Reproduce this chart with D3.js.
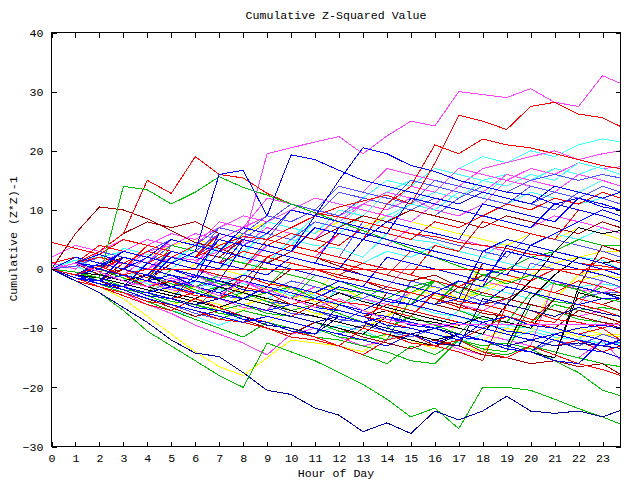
<!DOCTYPE html>
<html><head><meta charset="utf-8">
<script src="https://cdn.jsdelivr.net/npm/d3@7"></script>
<style>
body{margin:0;background:#fff}
text{font-family:"Liberation Mono","DejaVu Sans Mono",monospace;font-size:11.6px;fill:#000}
</style></head>
<body><svg id="chart" width="640" height="480"></svg>
<script>
// hour of day for each sample
const hours = [0,1,2,3,4, 5,6,7,8,9, 10,11,12,13,14, 15,16,17,18,19, 20,21,22,23,23.75];
const xTicks = [0,1,2,3,4,5,6,7,8,9,10,11,12,13,14,15,16,17,18,19,20,21,22,23];
const yTicks = [-30,-20,-10,0,10,20,30,40];

// cumulative (Z*Z)-1 series, one value per hour
const magenta1 = [0,-1,0.5,1,0, 2,1.5,3,4.5,19.5, 20.5,21.5,22.4,19.5,22.5, 25,24.2,30,29.5,29, 30.5,28.2,27.5,32.7,31.4];
const red1     = [0,1,-0.5,2,1, 3,2,4,5.5,5, 7,9,10.5,11.5,12.5, 11,17.9,26,25,23.6, 27.5,28.2,26.2,25.6,24.1];
const red2     = [0,1,0,2,1, 3,2,1,3,2, 4,3,6,5,11, 14,21,19.5,22,21, 20.5,19.5,18.5,17.5,17];
const red3     = [0,1,3,6,15, 12.8,19,16,15.4,12.8, 11,9.5,8.8,8,7, 6,5.5,4.5,4,3.5, 2.5,2,1,0.5,0];
const green1   = [0,-0.5,-1.5,14,13.4, 11,13,15.6,13.8,12.5, 11,9.5,8,6.5,5, 3.5,2,0.5,-1,-2.5, -1,-2.5,-3.5,-5,-5.5];
const darkred1 = [0,6,10.5,10,8.5, 6.5,4.5,3.5,2,1, 3,2,0.5,-1,-2, -3,-4,-5,-6,-5, -6,-7,-8,-9,-9.5];
const navy1    = [0,-2,-4,-6.5,-9, -12,-14.2,-14.8,-17.5,-20.5, -21.2,-23.5,-24.7,-27.5,-26, -27.8,-24,-25.5,-24,-21.5, -24,-24.4,-24,-25,-23.9];
const green2   = [0,-2,-4,-7,-10.5, -13,-15.5,-18,-20,-12.5, -14,-15.5,-17.5,-19.5,-22, -25,-23.5,-27,-20,-20, -20.5,-22,-23.6,-25,-26.2];
const green3   = [0,-1,-2.5,-4,-5.5, -7,-8.5,-10,-11.5,-9, -10.5,-11.5,-13,-14.5,-16, -13,-14.5,-12,-13,-12.5, -13.5,-15.5,-17.5,-20.5,-21.4];
const magenta2 = [0,1,-0.5,-2,-3, -1.5,-3,-4.5,-2,-3.5, -5,-6.5,-5,-7,-8.5, -9.3,-9.3,-9.3,-9.3,-9.3, -9.3,-9.3,-9.3,-9.3,-9.3];
const red4     = [0,-1,0.5,-1,0, 0,0,0,0,0, 0,0,0,0,0, 0,0,0,0,0, 0,0,0,0,0];
const yellow1  = [0,-1.5,-3,-5,-8, -11,-14,-16.5,-18,-15, -12,-12.5,-13,-14,-11, -12,-13.5,-9,-10,-11, -9,-10,-11.5,-11,-11.5];
const magenta3 = [0,-1,-2.5,-4,-6, -7.5,-9.5,-11,-12.5,-14.5, -11,-10,-11.5,-13,-12, -11,-12,-13.5,-14.5,-15, -13,-14,-15,-12,-15.4];
const darkred2 = [0,-1,-2,-3.5,-5, -6.5,-8,-7,-8.5,-10, -11,-9,-10,-11.5,-12.5, -13.5,-12,-13,-14.5,-15, -16,-15.5,-16.5,-16,-17.8];
const red5     = [0,-1.5,-3,-4.5,-6, -7,-5,-6.5,-8,-9, -10.5,-11.5,-13,-14.5,-12, -11,-13,-12,-14,-15, -13,-14.5,-16,-17,-18];
const black1   = [0,1,0.5,2,1, 0,-1,-2,-3,-4, -5,-6,-7,-8,-7, -8.5,-9,-10,-11,-6, -2,3,7,6,6.5];
const black2   = [0,-0.5,-1,-2,-1, -3,-4,-5,-3,-4, -5,-6,-4,-5.5,-6.5, -7.5,-8.5,-9.5,-8,-9, -10,-5,-6,-7,-8];
const cyan1    = [0,2,1,3,2, 5,4,3,6,5, 4,8,7,11,10, 14,13,17,19,18, 20,19,21,22,21.5];
const cyan2    = [0,1,0,2,1, 0,3,2,1,4, 3,2,6,9,8, 11,13,12,15,16, 15,17,16,17.5,17];
const cyan3    = [0,-1,1,0,-1, 2,1,0,3,6, 5,8,7,6,9, 11,10,13,12,11, 13,12,11,12,11];
const cyan4    = [0,-1,-2,-1,-2.5, -3.5,-2,-3,-4,-5, -3,-4.5,-6,-5,-6.5, -4,-5,-6,-3,-4, -5,-2,-3,-2.5,-3];
const cyan5    = [0,-1.5,-3,-4,-5.5, -7,-8,-9.5,-8,-9, -10,-11,-9.5,-10.5,-12, -10,-11,-12.5,-11,-12, -10.5,-11.5,-12,-12.5,-12.5];
const cyan6    = [0,0.5,-1,-2,1, 0,-1,-2.5,-1,2, 1,0,-1,1,3, 2,4,3,2,5, 4,6,5,7,6];
const cyan7    = [0,1.5,0,3.5,2.5, 1,4.5,3,2,8, 7,6,10,9,13, 15,14,13,12,16, 15,14,13,15,14];
const cyan8    = [0,-1,-2.5,-3,-4.5, -5,-2,-3.5,-4,-5.5, -6,-7.5,-3,-4,-5.5, -6,-7.5,-8,-9.5,-10, -6,-7,-8.5,-9,-10];
const cyan9    = [0.5,1.5,2,3,2, 1,4,3.5,2,1, 5,4,3.5,2,6, 5,4.5,3,2,1, 0,3,2,1.5,0];
const cyan10   = [0,-1,0.5,-1,-2, -3,-4,-1,-2.5,-3, -4.5,-5,-6,-7,-8, -9.5,-10,-7,-8,-9.5, -10,-11,-12,-8,-9];
const cyan11   = [0,1,0,-1,2, 1,0,4,3,6, 5,9,8,12,15, 14,17,16,15,14, 16,15,18,17,16];
const blue1    = [0,-1,1,0,2, 1,3,16,16.7,9, 19.3,18.5,16.7,15,14, 13,12,11,13,12, 11,14,13,12,13];
const blue2    = [0,1,0.5,3,2, 5,4,3,7,6, 10,9,15,20.5,19.5, 17.5,16.5,15,14,13, 12.5,11,12,10.5,10];
const blue3    = [0,-1,-2,-1,-2, 2,1,0,5,4, 3,7,6,5,8, 7,6,5,11,10, 9,8,12,11,10];
const blue4    = [0,1,0,-1,-2, -1,-3,-4,-2,-3, -4,-5,-3,-4,-5.5, -6,-4,-5,-6,-3, -4,-5,-6,-5,-5];
const blue5    = [0,-1,-2,-3,-1, -2,-3,-4,-5,-3, -4,-5,-6,-7,-5, -6,-7,-8,-9,-8, -9.5,-10,-11,-12,-13];
const blue6    = [0,-1,-2,-3,-4, -3,-4,-5,-6,-7, -6,-7,-8,-9,-8, -9,-10,-9,-10,-11, -12,-11,-10,-9.5,-10];
const blue7    = [0,-1.5,-2.5,-3.5,-5, -6,-7,-8,-9,-8, -9,-10,-11,-12,-13, -11,-12.5,-11,-12,-13, -14,-11,-12,-13,-12];
const blue8    = [0,2,1,0,-1, 3,2,1,0,-1, 2,1,0,-1,-2, -3,-4,-2,-3,4, 3,2,1,0,-1];
const blue9    = [0,-1,0,-1,-2, -3,-2,-3,-1,-2, -3,-4,-2,-3,-4, -5,-6,-5,3,5, 4,6,8,10,9];
const blue10   = [0,-1,-2,2,1, 0,-1.5,6,5,4, 3,9,8,7,6, 12,11,10,9,8, 7,11,10,9,8];
const blue11   = [0,-1,-2.5,-3,1, 0,-1,-2,4,3, 2,1,0,5,4, 3,2,1,0,-1, 4,3,2,1,0];
const blue12   = [0,1,2.5,1,0, -1,-2,3,2,1, 0,-1,-2,-3,2, 1,0,-1,-2,3, 2,1,0,-1,-2];
const blue13   = [0,-1.5,-2,-3,-4.5, -5,-6.5,-7,-8.5,-9, -10.5,-11,-6,-7.5,-8, -9.5,-10,-11.5,-12,-13.5, -14,-15.5,-16,-12,-13];
const blue14   = [0,-1,-2,-3,-4, -5,-1,-2,-3.5,-4, -5,-6.5,-7,-8,-9.5, -10,-11,-12,-9,-10.5, -11,-12,-13.5,-14,-15];
const blue15   = [0,1,0,3,2, 1,0,5,4,3, 2,1,7,6,5, 4,3,2,1,0, -1,-2,-3,-4,-5];
const lblue1   = [0,1,0,2,1, 3,2,5,4,6, 5,8,7,9,8, 10,9,12,14,13, 15,16,15,16,15.4];
const lblue2   = [0,-1,-2,0,-1, -2,-3,-2,-3,-4, -2,-3,-4,-5,-3, -4,-5,-6,-4,-5, -3,-4,-5,-4,-4];
const lblue3   = [0,-1,-2.5,-4,-5, -6,-7.5,-8.5,-7,-8, -9,-10,-11,-9.5,-10.5, -11.5,-10,-11,-12,-13, -12,-11,-12,-13,-12.3];
const lblue4   = [0,0.5,2,1,3, 5,4,7,6,9, 8,10,9,12,11, 10,12,11,13,12, 11,13,12,14,13];
const lblue5   = [0,-1,1,0,4, 3,2,7,6,5, 10,9,13,12,11, 15,14,13,12,11, 14,13,12,11,10];
const lblue6   = [0,-1.5,-2,-3.5,-4, -2,-3,-4.5,-5,-6, -7.5,-8,-9,-7,-8.5, -9,-10,-11.5,-12,-13, -14,-12,-13,-11,-12];
const lblue7   = [0,2,1,0,4, 3,2,1,6,5, 4,3,2,8,7, 6,5,4,3,2, 6,5,4,3,2];
const lblue8   = [0,-1,-2,-3.5,-4, -5,-6.5,-3,-4,-5.5, -6,-7,-8.5,-9,-10, -2,-3,-4,-5.5,-6, 1,0,-1,-2,-3];
const lblue9   = [0,1,3,2,1, 4,3,6,5,8, 11,10,14,13,12, 11,15,14,13,12, 11,10,13,12,11];
const navy2    = [0,-1,-2,-3,-4, -5,-6,-5,-6,-7, -8,-9,-8,-9,-10, -11,-10,-11,-12,-13, -12,-13,-12.5,-13,-13.4];
const navy3    = [0,-1,-2.5,-3,-4.5, -5,-6.5,-7,-8,-9.5, -10,-11,-8,-9,-10.5, -11,-12.5,-13,-5,-6, -7,-8,-6.5,-7.5,-8];
const red6     = [0,-1,-2,-1,-3, -2,-4,-5,-3,-4, -6,-5,-7,-8,-6, -7,-8,-9,-10,-8, -9,-10,-11,-10,-12];
const red7     = [0,1,2,1,3, 2,4,3,5,4, 6,5,4,7,6, 5,8,7,9,11, 10,12,11,13,12];
const red8     = [4.5,3.5,2.5,5,4, 3,2,1,3,2, 1,0,-1,1,0, -1,-2,-3,-1,-2, -3,-4,-2,-3,-4];
const red9     = [0,-1,-2,-3,-4, -5,-4,-5,-6,-7, -8,-6,-7,-8,-9, -10,-11,-12,-10,-11, -12,-13,-12,-14,-13];
const red10    = [1,2,1,0,4, 3,2,6,5,4, 3,2,1,0,-1, 3,2,1,0,-1, -2,0,-1,2,1];
const red11    = [0,2,1,0,-1.5, 3,2,1,0,5, 4,3,2,1,0, -1,4,3,8,7, 6,5,10,9,8];
const red12    = [0,-2,-3,-4,-5.5, -6,-7,-8.5,-9,-10, -11.5,-12,-13,-10,-11, -12.5,-13,-14,-15.5,-6, -7,-8.5,-9,-10,-9];
const red13    = [0,-1,-2,-3,-4, -3,-4.5,-5,-1,-2.5, -3,-4,-5.5,-6,-7, -8,-4,-5.5,-6,-7, -8.5,-9,-5,-6,-7];
const red14    = [0,1,4,3,2, 1,0,-1,-2,2, 1,0,-1.5,-2,-3, -4,-5,-6.5,-7,-8, -9,-5,-6,-7,-8];
const green4   = [0,-1,-2,-1,-2, -3,-4,-3,-5,-4, -3,-5,-6,-4,-5, -3,-2,-4,-1,0, 2,3,5,4,4];
const green5   = [0,-1,0,-1.5,-3, -2,-3.5,-5,-4,-5.5, -7,-6,-7.5,-9,-10, -8,-9.5,-11,-7,-8, -9,-6,-7,-6.5,-7];
const green6   = [0,-0.5,-2,-3,-4.5, -6,-7,-8.5,-7,-8, -9,-10,-11.5,-12,-11, -12,-13,-12,-14,-14.5, -13,-14,-15,-16,-16.5];
const green7   = [0,1,-1,-2,-1, -2.5,-3,-1,-2,-3, 1,0,-1,-2,-3, -4,-2,-3,-4,-5, -3,-4,-5,-3,-4];
const green8   = [0,-1,-2,-3.5,-4, 0,-1,-2.5,-3,-4, -5,-1,-2,-3.5,-4, -5,-6,-2,-3,0, -1,-2.5,-3,-4,-5];
const green9   = [0,-1,-1.5,-3,-4, -5.5,-6,-7,-6,-7.5, -8,-9,-10.5,-11,-12, -5,-6,-7,-8.5,-9, -4,-5.5,-6,-7,-8];
const green10  = [0,-1,-2,-3,-4.5, -5,-6,-7.5,-8,-9, -10,-11.5,-12,-13,-14, -15.5,-16,-12,-13.5,-14, -6,-7,-8.5,-9,-10];
const green11  = [0,1,0,-1,-2, 4,3,2,1,0, -1,-2,-3.5,-4,-5, -6,-2,-3,-4.5,-5, -6,-7,-8,-9,-10];
const yellow2  = [0,-1,-2,-1,-3, -4,-3,-5,-6,-5, -7,-8,-6,-7,-8, -6,-4,-5,-3,-2, -1,1,2,3,3];
const yellow3  = [0,-1,-2.5,-4,-5, -6,-5,-7,-8,-9, -7,-8,-9,-10,-8, -9,-10,-11,-12,-10, -11,-12,-10,-11,-11];
const yellow4  = [0,1,0,-1,-2, -1,-3,-2,-4,-3, -5,-4,-3,-5,-6, -4,-3,-5,-4,-2, -3,-4,-2,-1,-1.5];
const yellow5  = [0,1,2,3,2, 4,5,4,6,8, 7,6,8,7,9, 8,7,6,5,4, 6,5,7,6,5];
const yellow6  = [0,-1,-2,-3,-2, -4,-5,-6,-7,-3, -4,-5.5,-6,-7,-8, -4,-5,-6.5,-2,-3, -4,-5,-1,0,-1];
const yellow7  = [0,1,0,-1.5,-2, -3,1,0,-1,-2, -3.5,-4,0,-1,-2, -3,-4.5,-5,1,0, -1,-2,-3,-4,-5];
const yellow8  = [0,-1,-2,-3,-4, -5,-6.5,-7,-4,-5, -6,-7.5,-8,-9,-10, -11,-12.5,-13,-14,-10, -11,-2,-3.5,-4,-5];
const magenta4 = [0,1,2,1,3, 4,3,6,5,8, 10,9,8,11,10, 12,11,14,17,18, 19,20,18.5,19.5,20];
const magenta5 = [0,2,1,3,5, 4,6,5,7,9, 8,10,9,11,13, 12,10,9,11,15, 17,16,18,17,17.3];
const magenta6 = [0,-1,1,0,-1, -2,-1,-3,-2,-4, -5,-3,-4,-5,-6, -4,-5,-6,-7,-5, -6,-7,-8,-7,-8];
const magenta7 = [2,4,3,5,4, 6,5,7,9,8, 10,12,11,10,9, 8,11,10,9,8, 7,9,8,7,6];
const magenta8 = [1,0,3,2,1, 5,4,8,7,12, 11,10,14,13,17, 16,15,14,13,16, 15,14,13,12,11];
const magenta9 = [0,-1,-2,-3,-2, -3.5,-4,-5,-6.5,-7, -3,-4,-5.5,-6,-7, -8,-9.5,-10,-11,-12, -13,-2,-3.5,-4,-3];
const magenta10= [0,1,0,-1,2, 1,0,-1.5,-2,-3, -4,0,-1,-2,-3, 1,0,-1,-2,-3, -4,-5,-6,-2,-3];
const magenta11= [0,1,2,1,0, 3,2,1,0,4, 3,2,6,5,4, 7,6,5,4,3, 2,1,0,-1,-2];
const magenta12= [0,-1,1,0,3, 2,1,5,4,7, 6,5,9,12,11, 14,13,17,16,15, 14,13,16,15,14];
const darkred3 = [0,1,-1,0,2, 1,3,2,5,4, 6,5,7,9,8, 10,9,8,7,9, 8,7,6,8,7];
const darkred4 = [0,1,3,6,8, 7,8,6,5,4, 3,2,1,0,-1, -2,-1,-3,-4,-5, -3,-4,-5,-6,-5];
const darkred5 = [0,-1,-2,1,0, -1,-2,-3,-4,2, 1,0,-1,-2,-3.5, -4,-5,-6,-7.5,-8, -9,-10,-7,-8,-9];
const darkred6 = [0,-1,0,-1,-2, 1,0,-1,-2,-3, 0,-1,-2,-3,-4, -5,-6,-3,-4,-5, -6,-7,-8,-9,-10];
const darkred7 = [0,-1,-2,0,-1, -2,-3,-4,-5,-6, -7,-8,-9,-10,-4, -5,-6,-7,1,0, -1,-2,-3,4,3];
const black3   = [0,-1,-2,-1,-3, -4,-5,-3,-4,-5, -6,-7,-8,-9,-10, -11,-12,-11,-12,-13, -5,-1,2,1,1.5];
const black4   = [0,-1,-1.5,-2.5,-3.5, -4.5,-5.5,-6.5,-5,-6, -7,-8,-9,-10,-11, -12,-13,-11,-12,-13, -14,-15,-4,-5,-5.5];
const black5   = [0,1,0,-1,-2, -3,-4,-5,-6,-7, -8,-9,-10,-11,-8, -9,-10,-11,-12,-13, -14,-15,-3,-4,-4.5];

const seriesList = [cyan1,yellow5,cyan2,magenta4,magenta5,cyan3,cyan4,cyan5,cyan6,cyan7,cyan8,cyan9,cyan10,cyan11,
  yellow1,yellow2,yellow3,yellow4,yellow6,yellow7,yellow8,
  magenta6,magenta7,magenta1,magenta3,magenta8,magenta9,magenta10,magenta11,magenta12,
  lblue1,lblue2,lblue3,lblue4,lblue5,lblue6,lblue7,lblue8,lblue9,
  green4,green5,green6,green7,green8,green9,green10,green11,green2,green3,
  darkred1,darkred2,darkred3,darkred4,darkred5,darkred6,darkred7,black1,black2,black3,black4,black5,
  red1,red2,red3,red5,red6,red7,red8,red9,red10,red11,red12,red13,red14,
  green1,navy1,navy2,navy3,blue1,blue2,blue3,blue4,blue5,blue6,blue7,blue8,blue9,blue10,blue11,blue12,blue13,blue14,blue15,
  red4,magenta2];
const seriesColors = [
  "#40ffff","#ffff00","#40ffff","#ff40ff","#ff40ff","#40ffff","#40ffff","#40ffff","#40ffff","#40ffff","#40ffff","#40ffff","#40ffff","#40ffff",
  "#ffff00","#ffff00","#ffff00","#ffff00","#ffff00","#ffff00","#ffff00",
  "#ff40ff","#ff40ff","#ff40ff","#ff40ff","#ff40ff","#ff40ff","#ff40ff","#ff40ff","#ff40ff",
  "#5050ff","#5050ff","#5050ff","#5050ff","#5050ff","#5050ff","#5050ff","#5050ff","#5050ff",
  "#00c000","#00c000","#00c000","#00c000","#00c000","#00c000","#00c000","#00c000","#00c000","#00c000",
  "#a00000","#a00000","#a00000","#a00000","#a00000","#a00000","#a00000","#000000","#000000","#000000","#000000","#000000",
  "#ff0000","#ff0000","#ff0000","#ff0000","#ff0000","#ff0000","#ff0000","#ff0000","#ff0000","#ff0000","#ff0000","#ff0000","#ff0000",
  "#00c000","#0000a0","#0000a0","#0000a0","#0000ff","#0000ff","#0000ff","#0000ff","#0000ff","#0000ff","#0000ff","#0000ff","#0000ff","#0000ff","#0000ff","#0000ff","#0000ff","#0000ff","#0000ff",
  "#ff0000","#ff40ff"];

const svg = d3.select("#chart");
const x = d3.scaleLinear().domain([0, 23.75]).range([51.5, 620.5]);
const y = d3.scaleLinear().domain([-30, 40]).range([446.5, 32.5]);

svg.append("defs").append("clipPath").attr("id","plot")
  .append("rect").attr("x",51.5).attr("y",32.5).attr("width",569).attr("height",414);

const line = d3.line().x((d,i)=>x(hours[i])).y(d=>y(d));
svg.append("g").attr("clip-path","url(#plot)")
  .selectAll("path").data(seriesList).join("path")
  .attr("d", line).attr("fill","none")
  .attr("stroke",(d,i)=>seriesColors[i]).attr("stroke-width",1)
  .attr("shape-rendering","crispEdges");

// axes
const gx = svg.append("g").attr("transform","translate(0,446.5)")
  .call(d3.axisBottom(x).tickValues(xTicks).tickFormat(d3.format("d")).tickSizeInner(-5).tickSizeOuter(0).tickPadding(7));
const gxt = svg.append("g").attr("transform","translate(0,32.5)")
  .call(d3.axisTop(x).tickValues(xTicks).tickFormat("").tickSizeInner(-5).tickSizeOuter(0));
const gy = svg.append("g").attr("transform","translate(51.5,0)")
  .call(d3.axisLeft(y).tickValues(yTicks).tickFormat(d3.format("d")).tickSizeInner(-5).tickSizeOuter(0).tickPadding(8));
const gyr = svg.append("g").attr("transform","translate(620.5,0)")
  .call(d3.axisRight(y).tickValues(yTicks).tickFormat("").tickSizeInner(-5).tickSizeOuter(0));
[gx,gxt,gy,gyr].forEach(g=>{
  g.select(".domain").remove();
  g.selectAll("line").attr("stroke","#000").attr("shape-rendering","crispEdges");
  g.selectAll("text").attr("font-family",null).attr("font-size",null).attr("fill","#000");
});

svg.append("rect").attr("x",51.5).attr("y",32.5).attr("width",569).attr("height",414)
  .attr("fill","none").attr("stroke","#000").attr("shape-rendering","crispEdges");

svg.append("text").attr("x",336).attr("y",19).attr("text-anchor","middle").text("Cumulative Z-Squared Value");
svg.append("text").attr("x",336).attr("y",477).attr("text-anchor","middle").text("Hour of Day");
svg.append("text").attr("transform","translate(16.5,239) rotate(-90)").attr("text-anchor","middle").text("Cumulative (Z*Z)-1");
</script></body></html>
